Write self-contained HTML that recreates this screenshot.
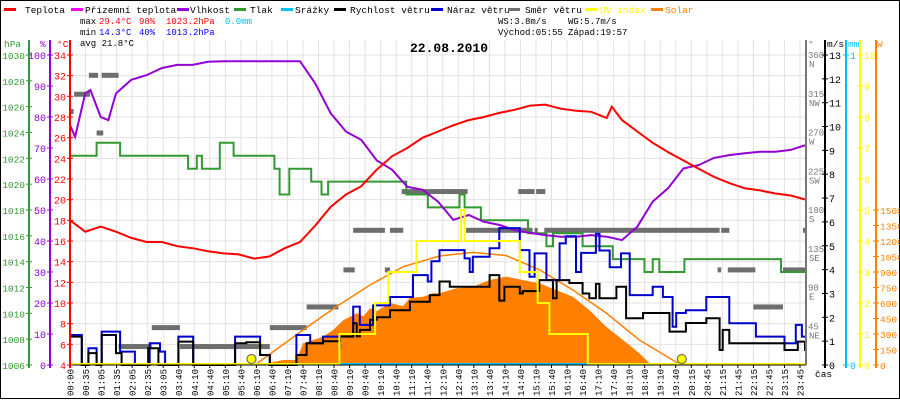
<!DOCTYPE html>
<html><head><meta charset="utf-8">
<style>
html,body{margin:0;padding:0;background:#fff;}
svg{display:block;font-family:"Liberation Mono",monospace;}
</style></head>
<body>
<svg id="chart" width="900" height="400" viewBox="0 0 900 400">
<rect x="0.5" y="0.5" width="899" height="398" fill="#fff" stroke="#000"/>
<g id="grid"></g>
<g id="series"></g>
<g id="axes"></g>
<g id="legend"></g>
<g font-size="9">
 <text x="80" y="24" fill="#000">max</text>
 <text x="99" y="24" fill="#f00">29.4°C</text>
 <text x="139" y="24" fill="#f00">98%</text>
 <text x="166" y="24" fill="#f00">1023.2hPa</text>
 <text x="225" y="24" fill="#00bfff">0.0mm</text>
 <text x="80" y="35" fill="#000">min</text>
 <text x="99" y="35" fill="#00f">14.3°C</text>
 <text x="139" y="35" fill="#00f">40%</text>
 <text x="166" y="35" fill="#00f">1013.2hPa</text>
 <text x="80" y="46" fill="#000">avg 21.8°C</text>
 <text x="498" y="24" fill="#000">WS:3.8m/s</text>
 <text x="568" y="24" fill="#000">WG:5.7m/s</text>
 <text x="498" y="35" fill="#000">Východ:05:55</text>
 <text x="568" y="35" fill="#000">Západ:19:57</text>
 <text x="449" y="52" font-size="13" font-weight="bold" text-anchor="middle" fill="#000">22.08.2010</text>
</g>
</svg>
<script>
// ---- data ----
const tempTimes = [0,30,60,90,120,150,180,210,240,270,300,330,360,390,420,450,480,510,540,570,600,630,660,690,720,750,780,810,840,870,900,930,960,990,1020,1050,1060,1080,1110,1140,1170,1200,1230,1260,1290,1320,1350,1380,1410,1440];
const tempVals  = [18.0,16.9,17.4,16.9,16.3,15.9,15.9,15.5,15.3,15.0,14.8,14.7,14.3,14.5,15.3,15.9,17.5,19.3,20.5,21.3,22.9,24.2,25.0,26.0,26.6,27.2,27.7,28.0,28.4,28.7,29.1,29.2,28.8,28.6,28.5,27.9,29.0,27.7,26.6,25.5,24.6,23.8,23.0,22.2,21.6,21.1,20.9,20.6,20.4,20.0];
const humTimes = [0,10,30,40,60,75,90,120,150,180,210,240,270,300,330,360,390,420,450,480,510,540,570,600,630,660,690,720,750,780,810,840,870,900,930,960,990,1020,1050,1080,1110,1140,1170,1200,1230,1260,1290,1320,1350,1380,1410,1440];
const humVals  = [77.4,73.6,87.7,88.7,80,79,87.6,92,93.5,95.8,96.8,96.8,97.8,98,98,98,98,98,98,90.8,81.2,75.3,72.6,66,63,57.5,56.5,52.7,46.8,48.4,46.2,45.2,43.5,42.6,41.9,41.4,41.4,41.9,41.4,40.3,44.6,52.7,57,63.4,64.5,66.8,67.7,68.3,68.8,68.8,69.4,71];
const presTimes = [0,52,98,231,248,258,293,320,400,410,429,472,492,505,658,700,762,772,804,896,932,945,1003,1062,1124,1140,1153,1202,1391];
const presVals  = [1022.2,1023.2,1022.2,1021.2,1022.2,1021.2,1023.2,1022.2,1021.2,1019.2,1021.2,1020.2,1019.2,1020.2,1019.2,1018.2,1019.2,1018.2,1017.2,1016.2,1015.2,1016.2,1015.2,1014.2,1013.2,1014.2,1013.2,1014.2,1013.2];
const windTimes = [0,23,36,52,62,90,101,153,173,212,241,323,345,372,391,443,463,495,528,554,561,567,587,600,626,665,704,723,743,821,840,850,880,886,918,945,952,977,1003,1016,1029,1036,1069,1088,1121,1173,1205,1245,1271,1277,1290,1398,1424,1438];
const windVals  = [1.19,0,0.5,0,1.26,0.5,0,0.7,0,0.98,0,0.91,0.95,0.42,0,0.42,0.91,1.0,1.2,1.75,1.2,1.47,1.9,2.0,2.3,2.65,2.93,3.5,3.28,3.77,2.7,3.28,3.0,3.1,3.56,2.8,3.56,3.44,3.0,2.8,3.4,2.8,3.28,1.96,2.18,1.4,1.76,1.96,0.63,1.47,0.91,0.63,0.98,0.63];
const gustTimes = [0,23,36,52,62,98,127,156,176,186,212,241,323,372,391,443,470,495,554,567,593,626,671,700,707,723,772,782,788,821,840,880,899,909,932,958,970,990,1000,1029,1036,1056,1078,1095,1140,1160,1179,1186,1205,1245,1290,1342,1398,1420,1432];
const gustVals  = [1.26,0,0.7,0,1.4,0.56,0,0.91,0.56,0,1.19,0,1.19,0.42,0,1.26,0.91,1.19,2.45,1.68,2.5,2.85,3.77,3.5,4.35,4.82,4.47,3.9,4.54,4.9,5.74,4.82,3.7,4.68,3.56,5.1,5.4,3.9,4.7,5.5,4.8,4.1,4.68,2.93,3.28,2.85,1.6,2.18,2.3,2.85,1.75,1.19,0.91,1.68,1.19];
const dirStart = [0,8,37,62,52,95,160,215,391,463,525,535,554,616,626,649,775,877,912,909,928,1274,1434,1267,1287,1337,1395];
const dirEnd   = [7,39,55,95,65,160,215,391,463,525,531,557,616,626,652,778,905,909,930,915,1271,1290,1440,1274,1341,1395,1439];
const dirVals  = [295,315,337,337,270,22,44,22,44,68,22,111,157,111,157,202,157,202,202,157,157,157,157,111,111,68,111];
const uvTimes = [0,527,597,623,678,765,772,880,915,938,1013];
const uvVals  = [0,1,2,3,4,5,4,3,2,1,0];
const solarTimes = [385,417,443,456,469,495,515,535,561,574,587,600,613,626,652,665,691,711,723,756,788,821,853,886,919,951,984,1016,1049,1082,1114,1134,1153];
const solarVals  = [16,48,48,210,230,274,340,435,500,470,550,520,560,600,570,650,660,695,695,743,758,823,855,823,790,726,661,532,371,242,113,16,0];
const solarMaxTimes = [362,456,521,587,652,723,788,853,919,984,1049,1114,1179,1196];
const solarMaxVals  = [0,339,564,774,951,1055,1090,1060,920,726,503,242,48,0];
const sunTimes = [355,1197];
const xLabels = ["00:00","00:35","01:05","01:35","02:05","02:35","03:05","03:40","04:10","04:40","05:10","05:40","06:10","06:40","07:10","07:40","08:10","08:40","09:10","09:40","10:10","10:40","11:10","11:40","12:10","12:40","13:10","13:40","14:10","14:40","15:10","15:40","16:10","16:40","17:10","17:40","18:10","18:40","19:10","19:40","20:15","20:45","21:15","21:45","22:15","22:45","23:15","23:45"];
const tempTicks = [4,6,8,10,12,14,16,18,20,22,24,26,28,30,32,34];
const humTicks = [0,10,20,30,40,50,60,70,80,90,100];
const presTicks = [1006,1008,1010,1012,1014,1016,1018,1020,1022,1024,1026,1028,1030];
const windTicks = [0,1,2,3,4,5,6,7,8,9,10,11,12,13];
const dirTicks = [45,90,135,180,225,270,315,360];
const dirNames = ["NE","E","SE","S","SW","W","NW","N"];
const uvTicks = [0,1,2,3,4,5,6,7,8,9,10];
const wTicks = [0,150,300,450,600,750,900,1050,1200,1350,1500];

// ---- scales ----
const X0=70, X1=806, YB=365, YT=55;
const xT = t => X0 + t*(X1-X0)/1440;
const yTemp = v => YB - (v-4)*(YB-YT)/30;
const yHum = v => YB - v*(YB-YT)/100;
const yPres = v => YB - (v-1006)*(YB-YT)/24;
const yWind = v => YB - v*(YB-YT)/13;
const yDir = v => YB - v*(YB-YT)/360;
const yUV = v => YB - v*(YB-YT)/10;
const yW = v => YB - v*155/1500;

const NS="http://www.w3.org/2000/svg";
function mk(parent, tag, attrs){const e=document.createElementNS(NS,tag);for(const k in attrs)e.setAttribute(k,attrs[k]);parent.appendChild(e);return e;}
const grid=document.getElementById('grid'), ser=document.getElementById('series'), axes=document.getElementById('axes'), leg=document.getElementById('legend');

// grid
xLabels.forEach((l,i)=>{
  const x=X0+i*(800-X0)/(xLabels.length-1);
  const g=mk(grid,'line',{x1:x,x2:x,y1:40,y2:YB,stroke:'#e4e0e0','stroke-width':1});
  
  
  const tk=mk(axes,'line',{x1:x,x2:x,y1:YB,y2:YB+3,stroke:'#000'});
  
  
  const t=mk(axes,'text',{x:0,y:0,'font-size':9,fill:'#000','text-anchor':'end',transform:`translate(${x+3.5},${YB+4}) rotate(-90)`});
  t.textContent=l;
  
  
});
tempTicks.forEach(v=>{
  const y=yTemp(v);
  const g=mk(grid,'line',{x1:X0,x2:X1,y1:y,y2:y,stroke:'#e4e0e0'});
  
  
});

function path(parent, d, attrs, name){const p=mk(parent,'path',Object.assign({d:d,fill:'none'},attrs));return p;}
function lineD(ts,vs,ys){return ts.map((t,i)=>(i?'L':'M')+xT(t).toFixed(1)+','+ys(vs[i]).toFixed(1)).join('');}
function stepD(ts,vs,ys,end){let d='';ts.forEach((t,i)=>{const x=xT(t),y=ys(vs[i]);if(i===0)d+='M'+x+','+y;else d+='L'+x.toFixed(1)+','+ys(vs[i-1]).toFixed(1)+'L'+x.toFixed(1)+','+y.toFixed(1);});d+='L'+xT(end).toFixed(1)+','+ys(vs[vs.length-1]).toFixed(1);return d;}

// solar area
let sd='M'+xT(solarTimes[0])+','+YB+solarTimes.map((t,i)=>'L'+xT(t).toFixed(1)+','+yW(solarVals[i]).toFixed(1)).join('')+'L'+xT(solarTimes[solarTimes.length-1])+','+YB+'Z';
const sa=mk(ser,'path',{d:sd,fill:'#ff8000'});


// rain baseline
path(ser,'M'+X0+','+(YB-1)+'L'+X1+','+(YB-1),{stroke:'#00bfff','stroke-width':2},'rain-line');
// direction bars
dirVals.forEach((v,i)=>{
  const r=mk(ser,'rect',{x:xT(dirStart[i]),y:yDir(v)-2,width:Math.max(2,xT(dirEnd[i])-xT(dirStart[i])),height:5,fill:'#6e6e6e'});
  
  
});
path(ser,lineD(solarMaxTimes,solarMaxVals,yW),{stroke:'#ff8000','stroke-width':1.5},'solar-max-line');
path(ser,stepD(presTimes,presVals,yPres,1440),{stroke:'#339933','stroke-width':2},'pressure-line');
path(ser,lineD(humTimes,humVals,yHum),{stroke:'#9400d3','stroke-width':2},'humidity-line');
path(ser,lineD(tempTimes,tempVals,yTemp),{stroke:'#ff0000','stroke-width':2},'temperature-line');
path(ser,stepD(gustTimes,gustVals,yWind,1440),{stroke:'#0000cc','stroke-width':2},'wind-gust-line');
path(ser,stepD(windTimes,windVals,yWind,1440),{stroke:'#000','stroke-width':2},'wind-speed-line');
path(ser,stepD(uvTimes,uvVals,yUV,1440).replace(/,365/g,',364'),{stroke:'#ffff00','stroke-width':2},'uv-line');
sunTimes.forEach(t=>{
  const c=mk(ser,'circle',{cx:xT(t),cy:YB-6,r:4.5,fill:'#ffff00',stroke:'#555','stroke-width':1});
  
  
});
path(ser,'M'+X0+','+YB+'L'+X1+','+YB,{stroke:'#000','stroke-width':1},'x-axis-line');

// axes
function axis(x,color,ticks,ys,side,name,top,fs){
  path(axes,`M${x},${top}L${x},${YB+3}`,{stroke:color,'stroke-width':2},name+'-line');
  ticks.forEach((v)=>{
    const y=ys(v);
    const tk=mk(axes,'line',{x1:x-3,x2:x+3,y1:y,y2:y,stroke:color});
    
    
    const t=mk(axes,'text',{x:side<0?x-4:x+4,y:y+4,'font-size':fs||10,fill:color,'text-anchor':side<0?'end':'start'});
    t.textContent=v;
    
    
  });
}
axis(29,'#339933',presTicks,yPres,-1,'pressure-axis',40,9.5);
axis(50,'#9400d3',humTicks,yHum,-1,'humidity-axis',40,10);
axis(70,'#ff0000',tempTicks,yTemp,-1,'temperature-axis',40,10);
axis(825,'#000',windTicks,yWind,1,'wind-axis',40,10);
axis(846,'#00bfff',[0,1],v=>YB-v*(YB-YT),1,'rain-axis',40,10);
axis(860,'#ffff00',uvTicks,yUV,1,'uv-axis',40,10);
axis(876,'#ff8000',wTicks,yW,1,'solar-axis',40,9.5);
path(axes,`M806,40L806,${YB}`,{stroke:'#777','stroke-width':2},'direction-axis-line');
dirTicks.forEach((v,i)=>{
  const y=yDir(v);
  const t=mk(axes,'text',{x:808,y:y+3,'font-size':9,fill:'#777'});t.textContent=v;
  
  
  const t2=mk(axes,'text',{x:809,y:y+12,'font-size':9,fill:'#777'});t2.textContent=dirNames[i];
  
  
});
[[4,'hPa','#339933'],[40,'%','#9400d3'],[57,'°C','#ff0000'],[808,'°','#777'],[827,'m/s','#000'],[848,'mm','#00bfff'],[877,'W','#ff8000'],[815,'čas','#000']].forEach((a,i)=>{
  const t=mk(axes,'text',{x:a[0],y:i===7?377:47,'font-size':9.5,fill:a[2]});t.textContent=a[1];
  
  
});

// legend
[[3,25,'Teplota','#ff0000'],[70,85,'Přízemní teplota','#ff00ff'],[176,190,'Vlhkost','#9400d3'],[233,250,'Tlak','#339933'],[280,295,'Srážky','#00bfff'],[333,350,'Rychlost větru','#000'],[430,447,'Náraz větru','#0000cc'],[507,525,'Směr větru','#6e6e6e'],[584,600,'UV index','#ffff00'],[650,665,'Solar','#ff8000']].forEach(a=>{
  const r=mk(leg,'rect',{x:a[0]+1,y:8,width:12,height:3,fill:a[3]});
  
  
  const t=mk(leg,'text',{x:a[1],y:13,'font-size':9.5,fill:(a[3]==='#ffff00'||a[3]==='#ff8000')?a[3]:'#000'});t.textContent=a[2];
  
  
});
</script>
</body></html>
